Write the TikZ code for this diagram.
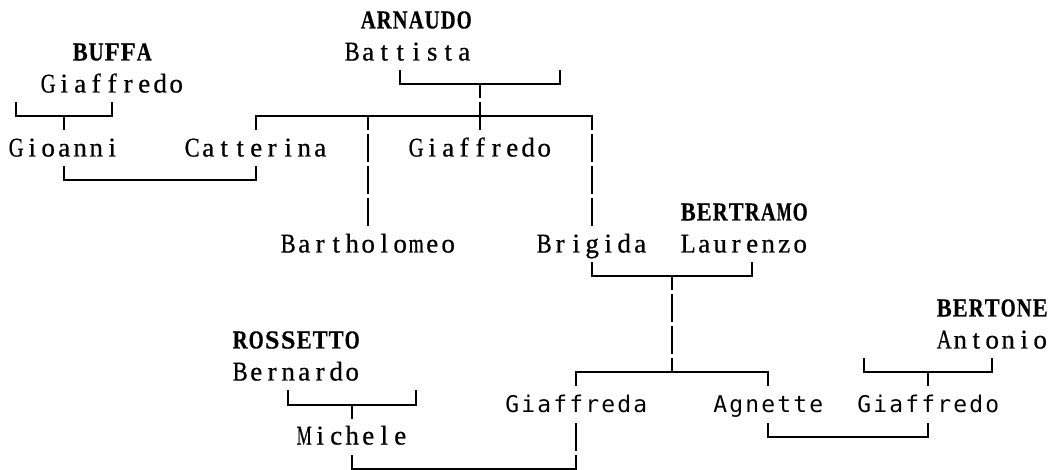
\documentclass[tikz,border=0pt]{standalone}
\usepackage{fontspec}
\usepackage{graphicx}
\setmainfont{Liberation Serif}
\newfontfamily\gname{Liberation Serif}[FakeBold=0.7]
\newfontfamily\sname{Liberation Serif Bold}[FakeBold=0.5]
\newfontfamily\smono{DejaVu Sans Mono}
\newcommand\cellch[1]{\sbox0{#1}\ifdim\wd0>15pt\makebox[16pt][c]{\resizebox{15pt}{\height}{#1}}\else\makebox[16pt][c]{#1}\fi}
\newcommand\mw[1]{\mwi#1\relax}
\def\mwi#1{\ifx\relax#1\else\cellch{#1}\expandafter\mwi\fi}
\tikzset{
  boxline/.style={line width=2pt, line cap=rect},
  sername/.style={font=\gname\fontsize{27pt}{27pt}\selectfont, inner sep=0pt, anchor=base west},
  surname/.style={font=\sname\fontsize{26pt}{26pt}\selectfont, inner sep=0pt, anchor=base west},
  sansname/.style={font=\smono\fontsize{23pt}{23pt}\selectfont, inner sep=0pt, anchor=base west}
}
% name, style, row, col, text
\newcommand\nm[5]{\node[#2] (#1) at ({16*#4+8},{20.5+32*#3+8}) {\mw{#5}};}
% horizontal: row, c1, c2
\newcommand\hl[3]{\draw[boxline] ({16*#2+16},{20.5+32*#1}) -- ({16*#3+16},{20.5+32*#1});}
% verticals: row, col
\newcommand\vu[2]{\draw[boxline] ({16*#2+16},{20.5+32*#1-13}) -- ({16*#2+16},{20.5+32*#1});}
\newcommand\vd[2]{\draw[boxline] ({16*#2+16},{20.5+32*#1}) -- ({16*#2+16},{20.5+32*#1+13});}
\newcommand\vf[2]{\draw[boxline] ({16*#2+16},{20.5+32*#1-13}) -- ({16*#2+16},{20.5+32*#1+13});}
\begin{document}
\begin{tikzpicture}[x=1pt,y=-1pt]
\useasboundingbox (0,0) rectangle (1050,470);
% names
\nm{arnaudo}{surname}{0}{22}{ARNAUDO}
\nm{buffa}{surname}{1}{4}{BUFFA}
\nm{battista}{sername}{1}{21}{Battista}
\nm{giaffredoB}{sername}{2}{2}{Giaffredo}
\nm{gioanni}{sername}{4}{0}{Gioanni}
\nm{catterina}{sername}{4}{11}{Catterina}
\nm{giaffredoA}{sername}{4}{25}{Giaffredo}
\nm{bertramo}{surname}{6}{42}{BERTRAMO}
\nm{bartholomeo}{sername}{7}{17}{Bartholomeo}
\nm{brigida}{sername}{7}{33}{Brigida}
\nm{laurenzo}{sername}{7}{42}{Laurenzo}
\nm{bertone}{surname}{9}{58}{BERTONE}
\nm{rossetto}{surname}{10}{14}{ROSSETTO}
\nm{antonio}{sername}{10}{58}{Antonio}
\nm{bernardo}{sername}{11}{14}{Bernardo}
\nm{giaffreda}{sansname}{12}{31}{Giaffreda}
\nm{agnette}{sansname}{12}{44}{Agnette}
\nm{giaffredoC}{sansname}{12}{53}{Giaffredo}
\nm{michele}{sername}{13}{18}{Michele}
% horizontal lines
\hl{2}{24}{34}
\hl{3}{0}{6}
\hl{3}{15}{36}
\hl{5}{3}{15}
\hl{8}{36}{46}
\hl{11}{35}{47}
\hl{11}{53}{61}
\hl{12}{17}{25}
\hl{13}{47}{57}
\hl{14}{21}{35}
% vertical pieces
\vu{2}{24}\vu{2}{34}\vd{2}{29}
\vu{3}{0}\vu{3}{6}\vd{3}{3}
\vd{3}{15}\vd{3}{22}\vf{3}{29}\vd{3}{36}
\vf{4}{22}\vf{4}{36}
\vu{5}{3}\vu{5}{15}\vf{5}{22}\vf{5}{36}
\vf{6}{22}\vf{6}{36}
\vu{8}{36}\vu{8}{46}\vd{8}{41}
\vf{9}{41}
\vf{10}{41}
\vd{11}{35}\vd{11}{47}\vu{11}{41}
\vu{11}{53}\vu{11}{61}\vd{11}{57}
\vu{12}{17}\vu{12}{25}\vd{12}{21}
\vf{13}{35}\vu{13}{47}\vu{13}{57}
\vu{14}{21}\vu{14}{35}
\end{tikzpicture}
\end{document}
